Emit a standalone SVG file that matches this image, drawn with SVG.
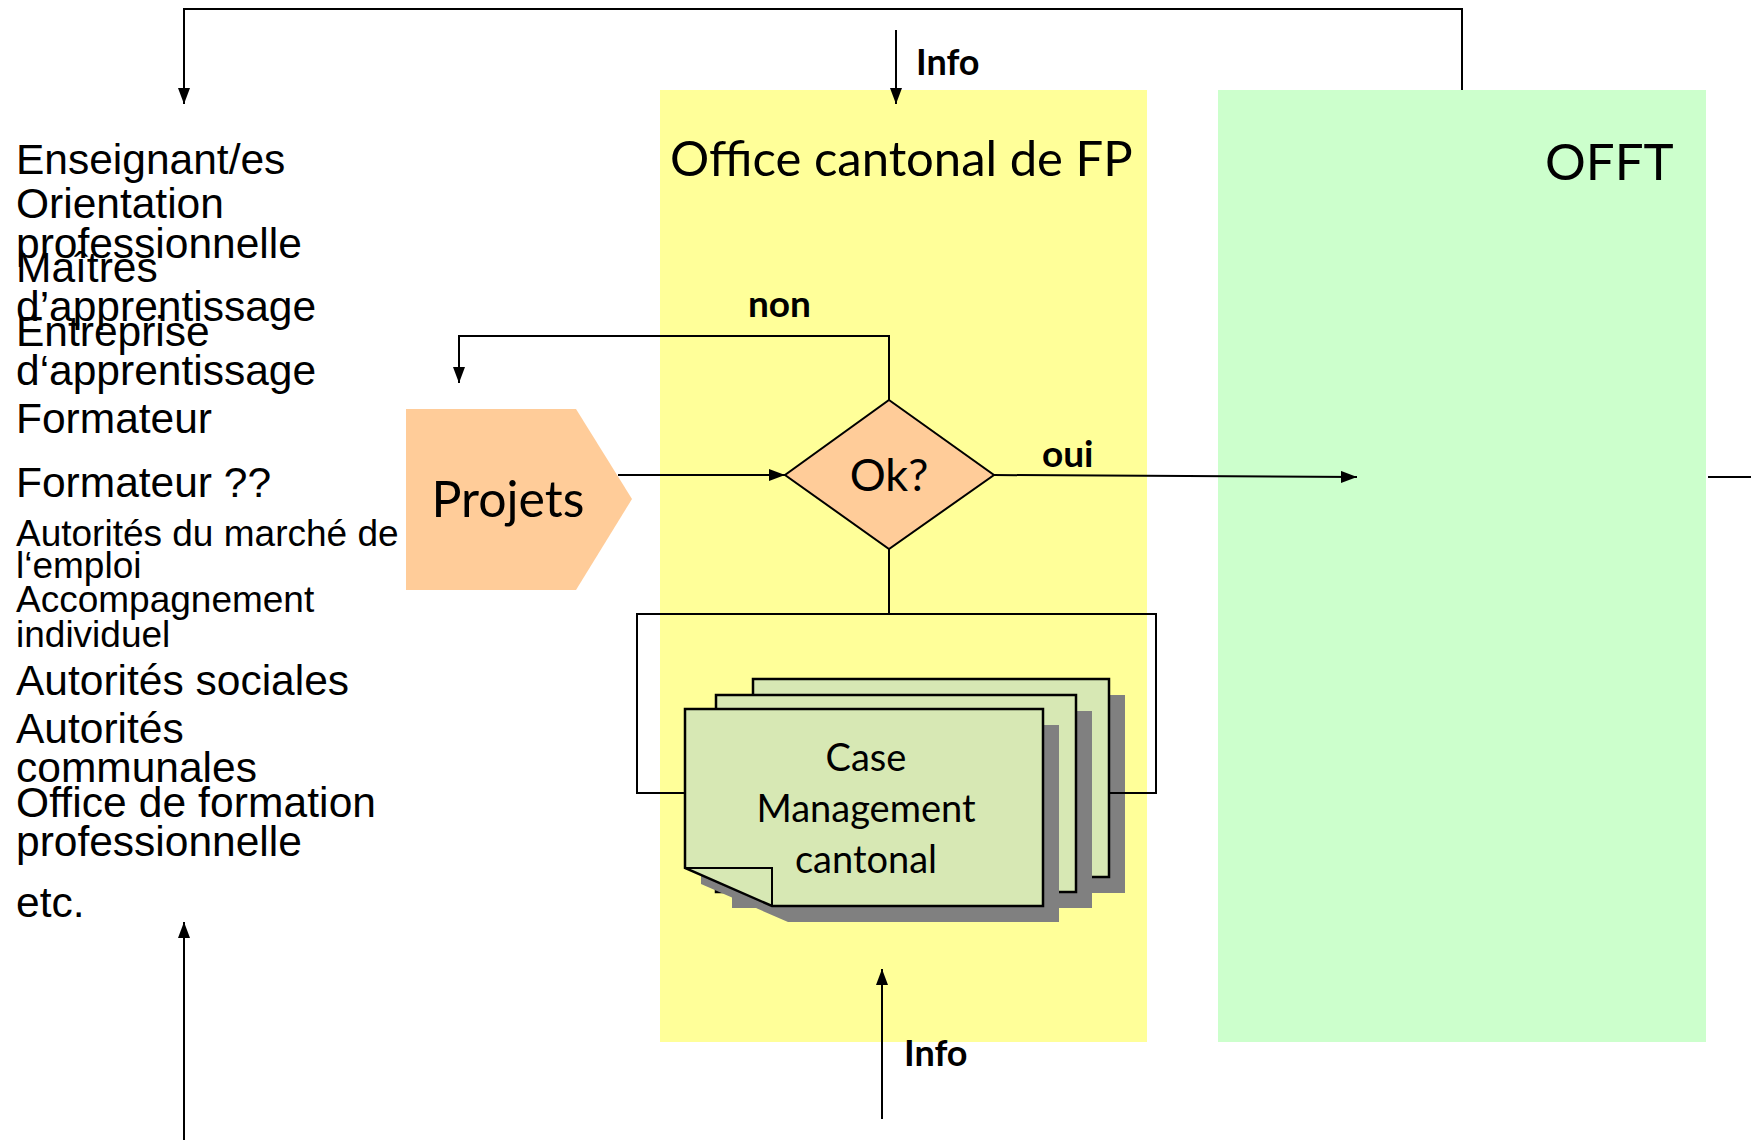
<svg xmlns="http://www.w3.org/2000/svg" width="1751" height="1140" viewBox="0 0 1751 1140">
<style>
.lbl{font-family:"Liberation Sans",Arial,sans-serif;fill:#000}
.big{font-size:42.5px}
.sm{font-size:37px}
.gs{font-family:Lato,"Liberation Sans",sans-serif;fill:#000}
.b{font-weight:bold}
.ln{fill:none;stroke:#000;stroke-width:2}
.doc{fill:#D7E8B4;stroke:#000;stroke-width:2.5}
.sh{fill:#808080}
</style>
<defs>
<marker id="ah" markerUnits="userSpaceOnUse" markerWidth="16" markerHeight="12" refX="16" refY="6" orient="auto">
<path d="M0,0 L16,6 L0,12 Z" fill="#000"/>
</marker>
</defs>
<rect width="1751" height="1140" fill="#fff"/>
<g id="lane-office">
<rect x="660" y="90" width="487" height="952" fill="#FFFF99"/>
<text class="gs" x="670" y="176" font-size="49">Office cantonal de FP</text>
</g>
<g id="lane-offt">
<rect x="1218" y="90" width="488" height="952" fill="#CCFFCC"/>
<text class="gs" x="1545" y="180" font-size="51">OFFT</text>
</g>
<g id="actors">
<text class="lbl big" x="16" y="174">Enseignant/es</text>
<text class="lbl big" x="16" y="218">Orientation</text>
<text class="lbl big" x="16" y="258">professionnelle</text>
<text class="lbl big" x="16" y="282">Maîtres</text>
<text class="lbl big" x="16" y="321">d’apprentissage</text>
<text class="lbl big" x="16" y="346">Entreprise</text>
<text class="lbl big" x="16" y="385">d‘apprentissage</text>
<text class="lbl big" x="16" y="433">Formateur</text>
<text class="lbl big" x="16" y="497">Formateur ??</text>
<text class="lbl sm" x="16" y="546">Autorités du marché de</text>
<text class="lbl sm" x="16" y="578">l‘emploi</text>
<text class="lbl sm" x="16" y="612">Accompagnement</text>
<text class="lbl sm" x="16" y="647">individuel</text>
<text class="lbl big" x="16" y="695">Autorités sociales</text>
<text class="lbl big" x="16" y="743">Autorités</text>
<text class="lbl big" x="16" y="782">communales</text>
<text class="lbl big" x="16" y="817" textLength="360">Office de formation</text>
<text class="lbl big" x="16" y="856">professionnelle</text>
<text class="lbl big" x="16" y="917">etc.</text>
</g>
<g id="projets">
<polygon points="406,409 576,409 632,499 576,590 406,590" fill="#FFCC99"/>
<text class="gs" x="508" y="517" font-size="50" text-anchor="middle">Projets</text>
</g>
<g id="ok">
<polygon points="889,400 994,475 889,549 785,475" fill="#FFCC99" stroke="#000" stroke-width="2"/>
<text class="gs" x="889" y="491" font-size="45" text-anchor="middle">Ok?</text>
</g>
<g id="case-management">
<rect class="sh" x="769" y="695" width="356" height="198"/>
<rect class="doc" x="753" y="679" width="356" height="198"/>
<rect class="sh" x="732" y="711" width="360" height="197"/>
<rect class="doc" x="716" y="695" width="360" height="197"/>
<path class="sh" d="M701,725 H1059 V922 H788 L701,884 Z"/>
<path class="doc" d="M685,709 H1043 V906 H772 L685,868 Z"/>
<path class="ln" d="M685,868 H772 V906" stroke-width="2.5"/>
<text class="gs" x="866" y="771" font-size="38" text-anchor="middle">Case</text>
<text class="gs" x="866" y="822" font-size="38" text-anchor="middle">Management</text>
<text class="gs" x="866" y="873" font-size="38" text-anchor="middle">cantonal</text>
</g>
<g id="connectors">
<path class="ln" d="M1462,90 V9 H184 V104" marker-end="url(#ah)"/>
<path class="ln" d="M896,30 V104" marker-end="url(#ah)"/>
<path class="ln" d="M889,400 V336 H459 V383" marker-end="url(#ah)"/>
<path class="ln" d="M618,475 H785" marker-end="url(#ah)"/>
<path class="ln" d="M994,475 L1357,477" marker-end="url(#ah)"/>
<path class="ln" d="M1708,477 H1751"/>
<path class="ln" d="M889,549 V614"/>
<path class="ln" d="M685,793 H637 V614 H1156 V793 H1109"/>
<path class="ln" d="M184,1140 V922" marker-end="url(#ah)"/>
<path class="ln" d="M882,1119 V969" marker-end="url(#ah)"/>
<text class="gs b" x="916" y="75" font-size="36">Info</text>
<text class="gs b" x="748" y="317" font-size="37">non</text>
<text class="gs b" x="1042" y="467" font-size="37">oui</text>
<text class="gs b" x="904" y="1066" font-size="36">Info</text>
</g>
</svg>
